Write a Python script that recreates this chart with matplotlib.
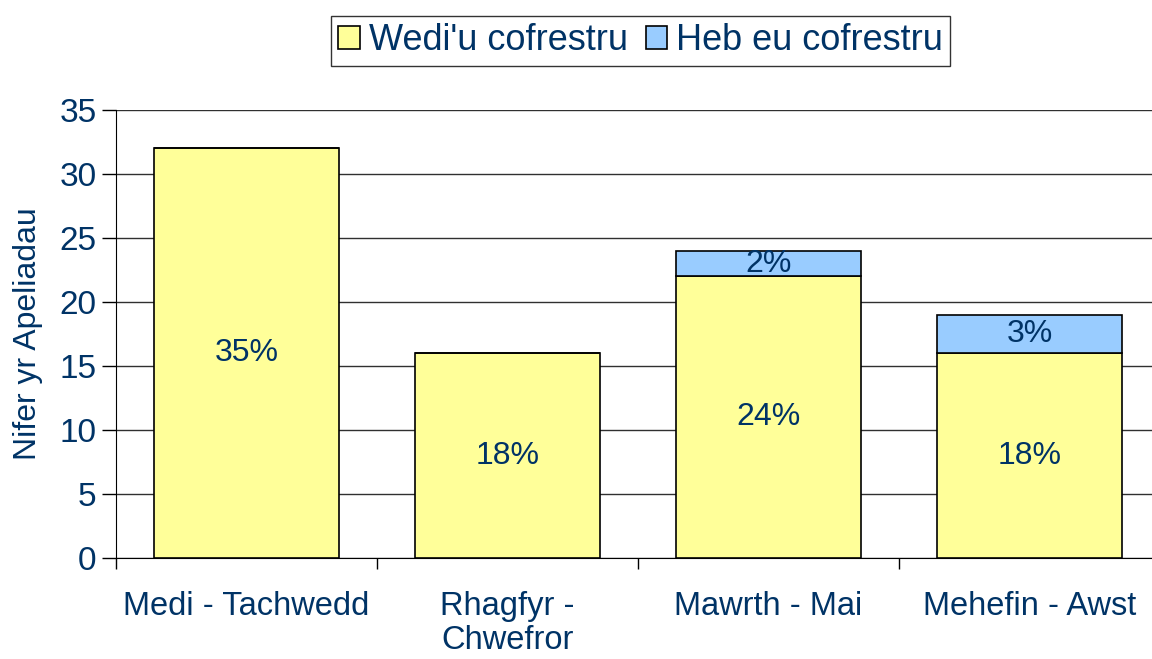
import numpy as np
import matplotlib
matplotlib.use("Agg")
import matplotlib.pyplot as plt
from matplotlib.ticker import FixedLocator

plt.rcParams['font.family'] = ['Liberation Sans', 'DejaVu Sans']

# data
periods = ['Medi - Tachwedd', 'Rhagfyr -\nChwefror', 'Mawrth - Mai', 'Mehefin - Awst']
registered = [32, 16, 22, 16]
unregistered = [0, 0, 2, 3]
registered_labels = ['35%', '18%', '24%', '18%']
unregistered_labels = ['', '', '2%', '3%']

navy = '#003366'
yellow = '#FFFF99'
blue = '#99CCFF'

fig = plt.figure(figsize=(11.52, 6.59), dpi=100)
ax = fig.add_axes((116/1152, 101/659, 1044/1152, 448/659))

x = np.arange(len(periods))
b1 = ax.bar(x, registered, width=0.71, color=yellow, edgecolor='black',
            linewidth=1.2, label="Wedi'u cofrestru", zorder=3)
b2 = ax.bar(x, unregistered, width=0.71, bottom=registered, color=blue,
            edgecolor='black', linewidth=1.2, label='Heb eu cofrestru', zorder=3)

for i in range(len(x)):
    ax.text(x[i], registered[i] / 2, registered_labels[i], ha='center', va='center',
            fontsize=23, color=navy, zorder=4)
    if unregistered[i]:
        ax.text(x[i], registered[i] + unregistered[i] / 2, unregistered_labels[i],
                ha='center', va='center', fontsize=23, color=navy, zorder=4)

ax.set_xlim(-0.5, 3.5)
ax.set_ylim(0, 35)
ax.set_yticks(np.arange(0, 36, 5))
ax.yaxis.grid(True, color='#303030', linewidth=1, zorder=0)
ax.set_axisbelow(True)

ax.set_xticks(x)
ax.set_xticklabels(periods, fontsize=23.5, color=navy, linespacing=1.12)
ax.xaxis.set_minor_locator(FixedLocator([-0.5, 0.5, 1.5, 2.5, 3.5]))
ax.tick_params(axis='x', which='major', length=0, pad=24)
ax.tick_params(axis='x', which='minor', length=8, width=1, color='black')
ax.tick_params(axis='y', labelsize=24, labelcolor=navy, length=10, width=1, pad=4)

for s in ['top', 'right']:
    ax.spines[s].set_visible(False)
ax.spines['left'].set_color('black')
ax.spines['bottom'].set_color('black')

ax.set_ylabel('Nifer yr Apeliadau', fontsize=23, color=navy, labelpad=12)

leg = fig.legend(handles=[b1, b2], loc='upper center', bbox_to_anchor=(0.556, 1.0),
                 ncol=2, fontsize=26, frameon=True, fancybox=False,
                 handlelength=0.6, handleheight=0.6, handletextpad=0.25,
                 columnspacing=0.5, borderpad=0.2, borderaxespad=0.45)
leg.get_frame().set_edgecolor('black')
leg.get_frame().set_linewidth(1)
for t in leg.get_texts():
    t.set_color(navy)

fig.savefig('out.png', dpi=100)
